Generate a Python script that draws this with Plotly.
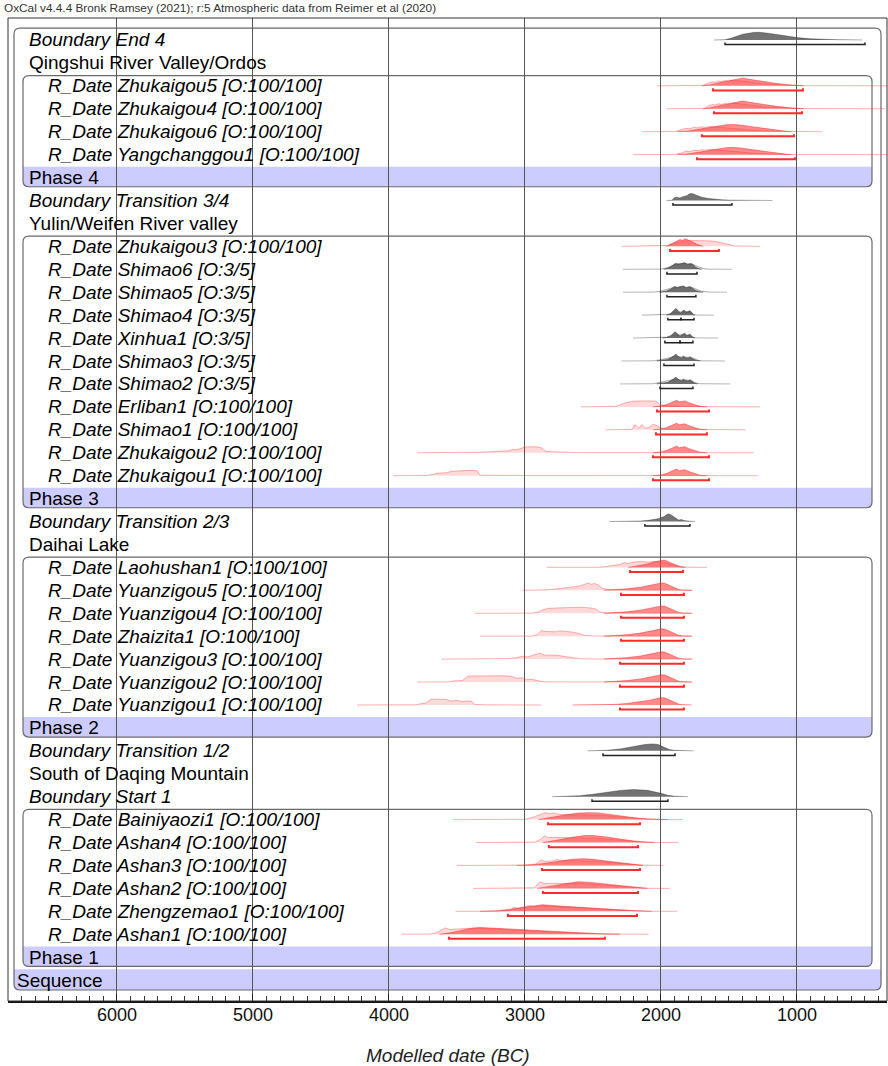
import plotly.graph_objects as go

HEADER = "OxCal v4.4.4 Bronk Ramsey (2021); r:5 Atmospheric data from Reimer et al (2020)"
AXIS_TITLE = "Modelled date (BC)"

# ---- rows (top to bottom) ----
ROW_KINDS = [
    "boundary", "group", "rdate", "rdate", "rdate", "rdate", "phase",
    "boundary", "group", "rdate", "rdate", "rdate", "rdate", "rdate", "rdate", "rdate",
    "rdate", "rdate", "rdate", "rdate", "phase",
    "boundary", "group", "rdate", "rdate", "rdate", "rdate", "rdate", "rdate", "rdate", "phase",
    "boundary", "group", "boundary", "rdate", "rdate", "rdate", "rdate", "rdate", "rdate", "phase",
    "sequence",
]
ROW_KEYS = [
    "End 4", "Qingshui River Valley/Ordos", "Zhukaigou5", "Zhukaigou4", "Zhukaigou6", "Yangchanggou1", "Phase 4",
    "Transition 3/4", "Yulin/Weifen River valley", "Zhukaigou3", "Shimao6", "Shimao5", "Shimao4", "Xinhua1",
    "Shimao3", "Shimao2", "Erliban1", "Shimao1", "Zhukaigou2", "Zhukaigou1", "Phase 3",
    "Transition 2/3", "Daihai Lake", "Laohushan1", "Yuanzigou5", "Yuanzigou4", "Zhaizita1", "Yuanzigou3",
    "Yuanzigou2", "Yuanzigou1", "Phase 2",
    "Transition 1/2", "South of Daqing Mountain", "Start 1", "Bainiyaozi1", "Ashan4", "Ashan3", "Ashan2",
    "Zhengzemao1", "Ashan1", "Phase 1",
    "Sequence",
]
OUTLIER_TAGS = {
    "Shimao6": "[O:3/5]", "Shimao5": "[O:3/5]", "Shimao4": "[O:3/5]", "Xinhua1": "[O:3/5]",
    "Shimao3": "[O:3/5]", "Shimao2": "[O:3/5]",
}
GRAY_KEYS = ["Shimao6", "Shimao5", "Shimao4", "Xinhua1", "Shimao3", "Shimao2"]

# ---- unmodelled likelihoods: years BC and relative probability ----
LIKE_YEARS = {
    "Zhukaigou5": [2030, 1760, 1690, 1650, 1620, 1600, 1580, 1555, 1530, 1500, 1470, 1440, 1400, 1350, 1250, 1150, 1050, 950, 800, 250],
    "Zhukaigou4": [1956, 1720, 1680, 1650, 1620, 1600, 1580, 1555, 1530, 1500, 1470, 1440, 1400, 1350, 1250, 1150, 1050, 950, 800, 353],
    "Zhukaigou6": [2140, 1900, 1875, 1850, 1820, 1790, 1760, 1730, 1700, 1670, 1640, 1600, 1560, 1500, 1400, 1300, 1200, 1100, 1000, 816],
    "Yangchanggou1": [2206, 1900, 1875, 1850, 1820, 1790, 1760, 1730, 1700, 1670, 1640, 1600, 1560, 1500, 1400, 1300, 1200, 1100, 1000, 250],
    "Zhukaigou3": [2290, 2000, 1950, 1900, 1860, 1820, 1780, 1740, 1700, 1660, 1620, 1580, 1540, 1500, 1460, 1400, 1270],
    "Shimao6": [2280, 2000, 1960, 1920, 1890, 1850, 1820, 1790, 1760, 1730, 1700, 1680, 1650, 1480],
    "Shimao5": [2280, 2050, 2000, 1960, 1920, 1880, 1840, 1800, 1760, 1730, 1700, 1650, 1515],
    "Shimao4": [2140, 1970, 1940, 1900, 1860, 1820, 1780, 1760, 1740, 1610],
    "Xinhua1": [2206, 2000, 1960, 1920, 1880, 1840, 1800, 1770, 1740, 1580],
    "Shimao3": [2290, 2050, 2000, 1960, 1920, 1880, 1840, 1800, 1760, 1730, 1700, 1530],
    "Shimao2": [2300, 2060, 2010, 1970, 1930, 1890, 1850, 1810, 1770, 1740, 1710, 1490],
    "Erliban1": [2590, 2420, 2400, 2385, 2330, 2300, 2280, 2250, 2200, 2100, 2040, 2010, 1990, 1950, 1900, 1850, 1700, 1270],
    "Shimao1": [2410, 2230, 2210, 2195, 2180, 2160, 2140, 2120, 2100, 2080, 2060, 2040, 2010, 1990, 1950, 1800, 1380],
    "Zhukaigou2": [3790, 3400, 3350, 3250, 3180, 3120, 3090, 3060, 3030, 3000, 2950, 2900, 2870, 2850, 2800, 2700, 2650, 2600, 1320],
    "Zhukaigou1": [3970, 3720, 3700, 3680, 3650, 3620, 3580, 3540, 3500, 3450, 3420, 3380, 3350, 3330, 3200, 3000, 2700, 1290],
    "Laohushan1": [2840, 2450, 2400, 2350, 2300, 2270, 2240, 2200, 2150, 2100, 2050, 2000, 1950, 1900, 1850, 1800, 1660],
    "Yuanzigou5": [3020, 2850, 2820, 2760, 2700, 2650, 2600, 2560, 2540, 2510, 2490, 2460, 2430, 2380, 2300, 1770],
    "Yuanzigou4": [3370, 2950, 2900, 2870, 2830, 2780, 2720, 2650, 2580, 2520, 2480, 2450, 2400, 2300, 1770],
    "Zhaizita1": [3330, 2950, 2910, 2880, 2860, 2820, 2780, 2740, 2700, 2650, 2610, 2560, 2500, 1770],
    "Yuanzigou3": [3610, 3200, 3120, 3060, 3020, 2980, 2940, 2890, 2860, 2820, 2770, 2720, 2650, 2600, 2500, 1770],
    "Yuanzigou2": [3790, 3560, 3520, 3460, 3420, 3300, 3150, 3100, 3060, 3020, 2990, 2950, 2910, 2870, 2700, 1770],
    "Yuanzigou1": [4235, 3800, 3770, 3730, 3690, 3620, 3580, 3540, 3500, 3460, 3420, 3390, 3370, 3300, 2880],
    "Bainiyaozi1": [3530, 3100, 3000, 2950, 2900, 2850, 2820, 2790, 2750, 2700, 2600, 2500, 2400, 2300, 2200, 2100, 2000, 1840],
    "Ashan4": [3360, 3000, 2920, 2880, 2855, 2830, 2790, 2740, 2650, 2550, 2450, 2350, 2250, 2150, 2050, 1875],
    "Ashan3": [3500, 3100, 3000, 2920, 2880, 2860, 2800, 2765, 2740, 2650, 2550, 2450, 2350, 2250, 2150, 1985],
    "Ashan2": [3380, 3000, 2930, 2890, 2860, 2800, 2700, 2600, 2500, 2400, 2300, 2200, 2100, 1935],
    "Zhengzemao1": [3510, 3200, 3110, 3080, 3060, 3000, 2963, 2930, 2880, 2800, 2700, 2600, 2500, 2400, 2300, 2200, 2100, 1880],
    "Ashan1": [3910, 3700, 3650, 3600, 3588, 3550, 3500, 3456, 3430, 3380, 3300, 3200, 3100, 3000, 2900, 2800, 2600, 2400, 2090],
}
LIKE_PROB = {
    "Zhukaigou5": [0, 0.01, 0.05, 0.3, 0.42, 0.38, 0.5, 0.45, 0.55, 0.5, 0.6, 0.55, 0.5, 0.4, 0.2, 0.1, 0.05, 0.02, 0.01, 0],
    "Zhukaigou4": [0, 0.01, 0.05, 0.3, 0.45, 0.4, 0.52, 0.45, 0.55, 0.5, 0.6, 0.55, 0.5, 0.4, 0.2, 0.1, 0.05, 0.02, 0.01, 0],
    "Zhukaigou6": [0, 0.02, 0.1, 0.2, 0.35, 0.3, 0.45, 0.4, 0.5, 0.45, 0.55, 0.5, 0.45, 0.35, 0.22, 0.12, 0.06, 0.03, 0.01, 0],
    "Yangchanggou1": [0, 0.02, 0.1, 0.15, 0.35, 0.3, 0.45, 0.42, 0.5, 0.45, 0.55, 0.5, 0.45, 0.35, 0.22, 0.12, 0.06, 0.03, 0.01, 0],
    "Zhukaigou3": [0, 0.02, 0.1, 0.3, 0.45, 0.55, 0.62, 0.6, 0.65, 0.6, 0.55, 0.45, 0.3, 0.15, 0.05, 0.02, 0],
    "Shimao6": [0, 0.02, 0.15, 0.35, 0.5, 0.55, 0.6, 0.55, 0.5, 0.3, 0.15, 0.05, 0.02, 0],
    "Shimao5": [0, 0.02, 0.12, 0.3, 0.45, 0.5, 0.55, 0.5, 0.45, 0.25, 0.1, 0.02, 0],
    "Shimao4": [0, 0.02, 0.1, 0.3, 0.35, 0.35, 0.3, 0.1, 0.02, 0],
    "Xinhua1": [0, 0.02, 0.1, 0.3, 0.35, 0.35, 0.3, 0.1, 0.02, 0],
    "Shimao3": [0, 0.02, 0.15, 0.3, 0.4, 0.45, 0.45, 0.4, 0.3, 0.1, 0.02, 0],
    "Shimao2": [0, 0.02, 0.15, 0.3, 0.4, 0.45, 0.45, 0.4, 0.3, 0.1, 0.02, 0],
    "Erliban1": [0, 0.01, 0.08, 0.02, 0.05, 0.2, 0.35, 0.45, 0.6, 0.62, 0.6, 0.3, 0.2, 0.1, 0.05, 0.03, 0.02, 0],
    "Shimao1": [0, 0.01, 0.05, 0.5, 0.4, 0.15, 0.55, 0.2, 0.2, 0.3, 0.55, 0.5, 0.3, 0.1, 0.05, 0.02, 0],
    "Zhukaigou2": [0, 0.01, 0.05, 0.1, 0.12, 0.2, 0.35, 0.3, 0.45, 0.6, 0.62, 0.6, 0.45, 0.15, 0.1, 0.08, 0.03, 0.01, 0],
    "Zhukaigou1": [0, 0.02, 0.1, 0.1, 0.25, 0.3, 0.3, 0.45, 0.5, 0.5, 0.55, 0.55, 0.5, 0.05, 0.02, 0.01, 0.01, 0],
    "Laohushan1": [0, 0.01, 0.1, 0.18, 0.3, 0.5, 0.4, 0.55, 0.6, 0.55, 0.6, 0.55, 0.4, 0.2, 0.06, 0.02, 0],
    "Yuanzigou5": [0, 0.01, 0.06, 0.15, 0.28, 0.4, 0.45, 0.62, 0.75, 0.62, 0.72, 0.55, 0.2, 0.06, 0.02, 0],
    "Yuanzigou4": [0, 0.01, 0.12, 0.35, 0.5, 0.55, 0.57, 0.6, 0.62, 0.55, 0.45, 0.12, 0.03, 0.01, 0],
    "Zhaizita1": [0, 0.01, 0.15, 0.6, 0.5, 0.5, 0.45, 0.55, 0.5, 0.42, 0.3, 0.08, 0.02, 0],
    "Yuanzigou3": [0, 0.01, 0.05, 0.15, 0.3, 0.22, 0.42, 0.62, 0.42, 0.42, 0.4, 0.3, 0.12, 0.04, 0.01, 0],
    "Yuanzigou2": [0, 0.01, 0.12, 0.15, 0.62, 0.65, 0.65, 0.58, 0.4, 0.45, 0.25, 0.28, 0.12, 0.03, 0.01, 0],
    "Yuanzigou1": [0, 0.01, 0.12, 0.18, 0.6, 0.62, 0.58, 0.4, 0.48, 0.35, 0.42, 0.35, 0.06, 0.01, 0],
    "Bainiyaozi1": [0, 0.01, 0.03, 0.2, 0.45, 0.72, 0.6, 0.7, 0.55, 0.5, 0.5, 0.48, 0.4, 0.28, 0.15, 0.06, 0.01, 0],
    "Ashan4": [0, 0.01, 0.05, 0.4, 0.7, 0.5, 0.55, 0.52, 0.5, 0.5, 0.42, 0.3, 0.16, 0.06, 0.01, 0],
    "Ashan3": [0, 0.01, 0.04, 0.15, 0.6, 0.45, 0.45, 0.62, 0.55, 0.5, 0.48, 0.4, 0.28, 0.14, 0.04, 0],
    "Ashan2": [0, 0.01, 0.06, 0.7, 0.5, 0.52, 0.55, 0.52, 0.44, 0.33, 0.2, 0.08, 0.01, 0],
    "Zhengzemao1": [0, 0.01, 0.1, 0.45, 0.3, 0.45, 0.6, 0.5, 0.58, 0.52, 0.45, 0.38, 0.3, 0.22, 0.14, 0.06, 0.01, 0],
    "Ashan1": [0, 0.02, 0.15, 0.55, 0.65, 0.5, 0.55, 0.65, 0.6, 0.62, 0.6, 0.55, 0.45, 0.38, 0.3, 0.22, 0.1, 0.03, 0],
}

# ---- modelled posteriors (and boundaries): years BC and relative probability ----
PHASE2_POST_YEARS = [2420, 2350, 2250, 2150, 2080, 2020, 1995, 1970, 1940, 1900, 1870, 1840, 1775]
PHASE2_POST_PROB = [0, 0.05, 0.15, 0.32, 0.5, 0.7, 0.76, 0.72, 0.52, 0.26, 0.09, 0.02, 0]
PHASE3_POST_YEARS = [2060, 2030, 2000, 1960, 1930, 1900, 1885, 1865, 1845, 1825, 1800, 1780, 1750, 1720, 1690, 1660]
PHASE3_POST_PROB = [0, 0.03, 0.08, 0.22, 0.42, 0.65, 0.68, 0.52, 0.55, 0.62, 0.45, 0.35, 0.2, 0.08, 0.02, 0]

POST_YEARS = {
    "End 4": [1610, 1530, 1480, 1400, 1320, 1280, 1200, 1100, 1000, 900, 800, 700, 520],
    "Zhukaigou5": [1700, 1640, 1560, 1480, 1420, 1400, 1350, 1250, 1150, 1050, 980, 950],
    "Zhukaigou4": [1690, 1640, 1560, 1480, 1420, 1400, 1350, 1250, 1150, 1050, 980, 950],
    "Zhukaigou6": [1880, 1800, 1700, 1600, 1520, 1470, 1420, 1320, 1220, 1130, 1074, 1040],
    "Yangchanggou1": [1880, 1800, 1700, 1600, 1520, 1478, 1420, 1320, 1220, 1130, 1074, 1040],
    "Transition 3/4": [1960, 1920, 1900, 1885, 1860, 1840, 1810, 1790, 1770, 1740, 1700, 1650, 1600, 1550, 1500, 1400, 1180],
    "Zhukaigou3": [1960, 1930, 1900, 1880, 1860, 1840, 1825, 1800, 1780, 1760, 1740, 1715, 1690],
    "Shimao6": [1980, 1950, 1920, 1895, 1870, 1850, 1825, 1805, 1780, 1765, 1745, 1720, 1700],
    "Shimao5": [2010, 1960, 1930, 1900, 1880, 1860, 1835, 1815, 1790, 1770, 1750, 1720, 1690],
    "Shimao4": [1960, 1930, 1905, 1890, 1870, 1855, 1840, 1830, 1815, 1800, 1787, 1775, 1765, 1750],
    "Xinhua1": [1990, 1960, 1930, 1910, 1897, 1880, 1860, 1840, 1825, 1810, 1795, 1787, 1775, 1765, 1750],
    "Shimao3": [2030, 1990, 1950, 1920, 1900, 1890, 1870, 1850, 1835, 1820, 1800, 1787, 1770, 1740, 1710],
    "Shimao2": [2030, 1990, 1950, 1920, 1900, 1890, 1870, 1850, 1835, 1820, 1800, 1787, 1770, 1750, 1730],
    "Erliban1": PHASE3_POST_YEARS,
    "Shimao1": PHASE3_POST_YEARS,
    "Zhukaigou2": PHASE3_POST_YEARS,
    "Zhukaigou1": PHASE3_POST_YEARS,
    "Transition 2/3": [2380, 2200, 2150, 2080, 2020, 1980, 1950, 1930, 1900, 1870, 1850, 1830, 1800, 1750],
    "Laohushan1": [2240, 2200, 2150, 2100, 2050, 2000, 1970, 1940, 1900, 1870, 1840, 1820],
    "Yuanzigou5": PHASE2_POST_YEARS,
    "Yuanzigou4": PHASE2_POST_YEARS,
    "Zhaizita1": PHASE2_POST_YEARS,
    "Yuanzigou3": PHASE2_POST_YEARS,
    "Yuanzigou2": PHASE2_POST_YEARS,
    "Yuanzigou1": [2650] + PHASE2_POST_YEARS,
    "Transition 1/2": [2540, 2450, 2400, 2300, 2200, 2120, 2060, 2020, 1980, 1940, 1900, 1850, 1760],
    "Start 1": [2800, 2700, 2600, 2500, 2400, 2300, 2200, 2100, 2000, 1950, 1900, 1850, 1800],
    "Bainiyaozi1": [2900, 2850, 2800, 2700, 2600, 2530, 2470, 2400, 2300, 2200, 2100, 2000, 1950],
    "Ashan4": [2870, 2820, 2750, 2650, 2560, 2500, 2400, 2300, 2200, 2100, 2050],
    "Ashan3": [3060, 2950, 2850, 2750, 2650, 2574, 2500, 2400, 2300, 2200, 2130],
    "Ashan2": [2910, 2850, 2750, 2650, 2610, 2500, 2400, 2300, 2200, 2100],
    "Zhengzemao1": [3330, 3200, 3100, 3000, 2900, 2870, 2800, 2700, 2600, 2500, 2400, 2300, 2200, 2070],
    "Ashan1": [3630, 3550, 3450, 3380, 3330, 3250, 3150, 3050, 2950, 2850, 2750, 2650, 2550, 2450, 2300],
}
POST_PROB = {
    "End 4": [0, 0.02, 0.2, 0.6, 0.78, 0.8, 0.68, 0.45, 0.25, 0.12, 0.06, 0.03, 0],
    "Zhukaigou5": [0, 0.1, 0.35, 0.6, 0.78, 0.8, 0.68, 0.45, 0.25, 0.1, 0.03, 0],
    "Zhukaigou4": [0, 0.1, 0.35, 0.6, 0.78, 0.8, 0.68, 0.45, 0.25, 0.1, 0.03, 0],
    "Zhukaigou6": [0, 0.08, 0.3, 0.55, 0.72, 0.75, 0.7, 0.5, 0.28, 0.1, 0.03, 0],
    "Yangchanggou1": [0, 0.08, 0.3, 0.55, 0.72, 0.75, 0.7, 0.5, 0.28, 0.1, 0.03, 0],
    "Transition 3/4": [0, 0.02, 0.3, 0.35, 0.25, 0.4, 0.5, 0.7, 0.72, 0.55, 0.35, 0.22, 0.12, 0.07, 0.04, 0.02, 0],
    "Zhukaigou3": [0, 0.2, 0.45, 0.55, 0.7, 0.6, 0.8, 0.65, 0.55, 0.4, 0.25, 0.1, 0],
    "Shimao6": [0, 0.1, 0.35, 0.6, 0.55, 0.6, 0.68, 0.5, 0.6, 0.5, 0.2, 0.05, 0],
    "Shimao5": [0, 0.1, 0.3, 0.6, 0.5, 0.55, 0.65, 0.45, 0.6, 0.45, 0.2, 0.05, 0],
    "Shimao4": [0, 0.15, 0.5, 0.7, 0.4, 0.2, 0.45, 0.5, 0.3, 0.35, 0.45, 0.3, 0.05, 0],
    "Xinhua1": [0, 0.05, 0.2, 0.5, 0.65, 0.45, 0.2, 0.4, 0.5, 0.25, 0.3, 0.4, 0.25, 0.05, 0],
    "Shimao3": [0, 0.05, 0.15, 0.4, 0.6, 0.7, 0.45, 0.3, 0.5, 0.35, 0.3, 0.45, 0.25, 0.05, 0],
    "Shimao2": [0, 0.05, 0.15, 0.4, 0.6, 0.7, 0.45, 0.3, 0.5, 0.35, 0.3, 0.45, 0.25, 0.05, 0],
    "Erliban1": PHASE3_POST_PROB,
    "Shimao1": PHASE3_POST_PROB,
    "Zhukaigou2": PHASE3_POST_PROB,
    "Zhukaigou1": PHASE3_POST_PROB,
    "Transition 2/3": [0, 0.02, 0.05, 0.15, 0.3, 0.5, 0.78, 0.74, 0.4, 0.15, 0.2, 0.1, 0.05, 0],
    "Laohushan1": [0, 0.08, 0.2, 0.35, 0.55, 0.72, 0.74, 0.55, 0.3, 0.12, 0.03, 0],
    "Yuanzigou5": PHASE2_POST_PROB,
    "Yuanzigou4": PHASE2_POST_PROB,
    "Zhaizita1": PHASE2_POST_PROB,
    "Yuanzigou3": PHASE2_POST_PROB,
    "Yuanzigou2": PHASE2_POST_PROB,
    "Yuanzigou1": [0] + PHASE2_POST_PROB,
    "Transition 1/2": [0, 0.02, 0.05, 0.2, 0.45, 0.65, 0.72, 0.65, 0.4, 0.15, 0.05, 0.02, 0],
    "Start 1": [0, 0.02, 0.1, 0.25, 0.45, 0.65, 0.74, 0.66, 0.35, 0.15, 0.05, 0.01, 0],
    "Bainiyaozi1": [0, 0.1, 0.25, 0.5, 0.68, 0.72, 0.7, 0.58, 0.38, 0.2, 0.07, 0.01, 0],
    "Ashan4": [0, 0.1, 0.28, 0.55, 0.72, 0.72, 0.58, 0.36, 0.16, 0.04, 0],
    "Ashan3": [0, 0.06, 0.22, 0.45, 0.64, 0.7, 0.64, 0.46, 0.28, 0.1, 0],
    "Ashan2": [0, 0.14, 0.4, 0.64, 0.7, 0.6, 0.44, 0.25, 0.09, 0],
    "Zhengzemao1": [0, 0.06, 0.22, 0.45, 0.66, 0.68, 0.6, 0.5, 0.42, 0.33, 0.24, 0.14, 0.06, 0],
    "Ashan1": [0, 0.15, 0.45, 0.65, 0.7, 0.66, 0.58, 0.5, 0.42, 0.34, 0.26, 0.18, 0.11, 0.05, 0],
}

# ---- 95.4% ranges (years BC) ----
RANGES = {
    "End 4": [(1529, 500)],
    "Zhukaigou5": [(1618, 956)], "Zhukaigou4": [(1610, 963)], "Zhukaigou6": [(1699, 1022)],
    "Yangchanggou1": [(1735, 1015)],
    "Transition 3/4": [(1912, 1478)],
    "Zhukaigou3": [(1934, 1574)], "Shimao6": [(1956, 1735)], "Shimao5": [(1956, 1743)],
    "Shimao4": [(1949, 1853), (1853, 1757)], "Xinhua1": [(1971, 1860), (1860, 1765)],
    "Shimao3": [(1978, 1757)], "Shimao2": [(2007, 1765)],
    "Erliban1": [(2029, 1647)], "Shimao1": [(2037, 1662)], "Zhukaigou2": [(2059, 1647)], "Zhukaigou1": [(2059, 1647)],
    "Transition 2/3": [(2118, 1787)],
    "Laohushan1": [(2228, 1838)], "Yuanzigou5": [(2294, 1831)], "Yuanzigou4": [(2294, 1831)],
    "Zhaizita1": [(2294, 1831)], "Yuanzigou3": [(2301, 1831)], "Yuanzigou2": [(2301, 1831)], "Yuanzigou1": [(2301, 1831)],
    "Transition 1/2": [(2426, 1897)],
    "Start 1": [(2507, 1949)],
    "Bainiyaozi1": [(2831, 2154)], "Ashan4": [(2824, 2169)], "Ashan3": [(2875, 2154)], "Ashan2": [(2868, 2169)],
    "Zhengzemao1": [(3125, 2176)], "Ashan1": [(3559, 2412)],
}

X_TICKS = [6000, 5000, 4000, 3000, 2000, 1000]
X_RANGE = [6801, 338]

# ---- layout constants ----
W, H = 888, 1066
ML, MR, MT, MB = 8, 1, 18, 65
PH = H - MT - MB
Y_RANGE = [42.91, 0.041]
HMAX = 0.42
BRK = 0.2
FONT = "Liberation Sans, Arial, sans-serif"

fig = go.Figure()


def ys(row, probs):
    return [row - p * HMAX for p in probs]


for i, (kind, key) in enumerate(zip(ROW_KINDS, ROW_KEYS), start=1):
    gray = key in GRAY_KEYS
    if key in LIKE_YEARS:
        fig.add_trace(go.Scatter(
            x=LIKE_YEARS[key], y=ys(i, LIKE_PROB[key]), mode="lines", fill="toself",
            fillcolor="rgba(0,0,0,0.13)" if gray else "rgba(255,0,0,0.15)",
            line=dict(color="rgba(0,0,0,0.28)" if gray else "rgba(255,50,50,0.38)", width=1),
            hoverinfo="skip", showlegend=False))
    if key in POST_YEARS:
        if kind == "boundary":
            fc, lc = "rgba(90,90,90,0.85)", "rgba(0,0,0,0.3)"
        elif gray:
            fc, lc = "rgba(80,80,80,0.8)", "rgba(60,60,60,0.6)"
        else:
            fc, lc = "rgba(255,60,60,0.6)", "rgba(255,40,40,0.5)"
        fig.add_trace(go.Scatter(
            x=POST_YEARS[key], y=ys(i, POST_PROB[key]), mode="lines", fill="toself",
            fillcolor=fc, line=dict(color=lc, width=1),
            hoverinfo="skip", showlegend=False))
    if key in RANGES:
        black = kind == "boundary" or gray
        for a, b in RANGES[key]:
            yb = i + BRK
            fig.add_trace(go.Scatter(
                x=[a, a, b, b], y=[yb - 0.09, yb, yb, yb - 0.09], mode="lines",
                line=dict(color="#222222" if black else "#ff2a2a", width=1.5 if black else 2),
                hoverinfo="skip", showlegend=False))

# ---- boxes (rounded) ----
PW = W - ML - MR
RX = 6 / PW
RY = 6 / 22.93


def rrect(x0, x1, y0, y1, round_top=True):
    p = []
    if round_top:
        p.append(f"M {x0+RX},{y0} L {x1-RX},{y0} Q {x1},{y0} {x1},{y0+RY}")
    else:
        p.append(f"M {x0},{y0} L {x1},{y0}")
    p.append(f"L {x1},{y1-RY} Q {x1},{y1} {x1-RX},{y1} L {x0+RX},{y1} Q {x0},{y1} {x0},{y1-RY}")
    if round_top:
        p.append(f"L {x0},{y0+RY} Q {x0},{y0} {x0+RX},{y0} Z")
    else:
        p.append(f"L {x0},{y0} Z")
    return " ".join(p)


shapes = []
BAND = "#ccccff"
EDGE = "#6a6a6a"
sx0, sx1 = (14 - ML) / PW, (881 - ML) / PW
seq_row = len(ROW_KINDS)
shapes.append(dict(type="path", xref="paper", yref="y", layer="below",
                   path=rrect(sx0, sx1, seq_row - 0.48, seq_row + 0.43, round_top=False),
                   fillcolor=BAND, line=dict(width=0)))
shapes.append(dict(type="path", xref="paper", yref="y", layer="below",
                   path=rrect(sx0, sx1, 1 - 0.52, seq_row + 0.43),
                   fillcolor="rgba(0,0,0,0)", line=dict(color=EDGE, width=1.2)))

px0, px1 = (23 - ML) / PW, (872 - ML) / PW
phase_rows = [i for i, k in enumerate(ROW_KINDS, start=1) if k == "phase"]
for pr in phase_rows:
    first = pr
    while first - 1 >= 1 and ROW_KINDS[first - 2] == "rdate":
        first -= 1
    shapes.append(dict(type="path", xref="paper", yref="y", layer="below",
                       path=rrect(px0, px1, pr - 0.47, pr + 0.4, round_top=False),
                       fillcolor=BAND, line=dict(width=0)))
    shapes.append(dict(type="path", xref="paper", yref="y", layer="below",
                       path=rrect(px0, px1, first - 0.45, pr + 0.4),
                       fillcolor="rgba(0,0,0,0)", line=dict(color=EDGE, width=1.2)))

# outer frame
shapes.append(dict(type="rect", xref="paper", yref="paper", x0=0, x1=1, y0=0, y1=1,
                   line=dict(color="#333333", width=1), layer="above"))

# ---- labels ----
annotations = []
XPOS = {"boundary": (27 - ML) / PW, "group": (27 - ML) / PW, "phase": (27 - ML) / PW,
        "rdate": (46 - ML) / PW, "sequence": (15 - ML) / PW}
for i, (kind, key) in enumerate(zip(ROW_KINDS, ROW_KEYS), start=1):
    if kind == "boundary":
        text = f"<i>Boundary {key}</i>"
    elif kind == "rdate":
        text = f"<i>R_Date {key} {OUTLIER_TAGS.get(key, '[O:100/100]')}</i>"
    else:
        text = key
    annotations.append(dict(x=XPOS[kind], y=i, xref="paper", yref="y", text=text, showarrow=False,
                            xanchor="left", yanchor="middle",
                            font=dict(family=FONT, size=19, color="#000000")))

# tick labels
for t in X_TICKS:
    annotations.append(dict(x=t, y=-(1015 - (H - MB)) / PH, xref="x", yref="paper", text=str(t),
                            showarrow=False, xanchor="center", yanchor="middle",
                            font=dict(family=FONT, size=18, color="#111111")))

annotations.append(dict(x=(2 - ML) / PW, y=1 + (MT - 8) / PH, xref="paper", yref="paper",
                        text=HEADER, showarrow=False, xanchor="left", yanchor="middle",
                        font=dict(family=FONT, size=11.8, color="#333333")))
annotations.append(dict(x=0.5, y=-(1055 - (H - MB)) / PH, xref="paper", yref="paper",
                        text=f"<i>{AXIS_TITLE}</i>", showarrow=False, xanchor="center", yanchor="middle",
                        font=dict(family=FONT, size=19, color="#222222")))

fig.update_layout(
    width=W, height=H, autosize=False,
    margin=dict(l=ML, r=MR, t=MT, b=MB, pad=0),
    paper_bgcolor="white", plot_bgcolor="white",
    shapes=shapes, annotations=annotations, showlegend=False,
    xaxis=dict(range=X_RANGE, tickvals=X_TICKS, showticklabels=False,
               ticks="inside", ticklen=7, tickcolor="#222", tickwidth=1,
               showgrid=True, gridcolor="#555555", gridwidth=1, zeroline=False,
               showline=True, linecolor="#111111", linewidth=2,
               minor=dict(dtick=100, tick0=0, ticks="inside", ticklen=5, tickcolor="#333", showgrid=False)),
    yaxis=dict(range=Y_RANGE, showgrid=False, zeroline=False, showticklabels=False, showline=False, ticks=""),
)

fig.write_html("out.html", config={"displayModeBar": False},
               post_script="document.body.style.margin='0';document.body.style.padding='0';"
                           "document.documentElement.style.overflow='hidden';")
